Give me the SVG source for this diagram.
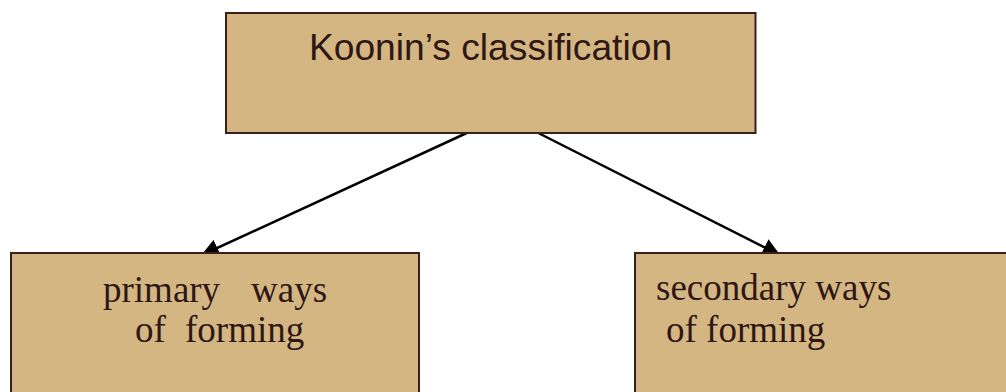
<svg xmlns="http://www.w3.org/2000/svg" width="1006" height="392" viewBox="0 0 1006 392">
  <style>
    .box { fill: #d4b683; stroke: #3b1f1a; stroke-width: 2; }
    .sans { font-family: "Liberation Sans", Arial, sans-serif; fill: #2e1714; }
    .serif { font-family: "Liberation Serif", "Times New Roman", serif; fill: #2e1714; font-size: 37px; }
    .edge { stroke: #000; stroke-width: 2.5; fill: none; marker-end: url(#arrow); }
  </style>
  <defs>
    <marker id="arrow" viewBox="0 0 18 18" refX="18" refY="9" markerWidth="18" markerHeight="18" orient="auto" markerUnits="userSpaceOnUse">
      <path d="M0,0 L18,9 L0,18 Z" fill="#000"/>
    </marker>
  </defs>
  <rect width="1006" height="392" fill="#fff"/>

  <!-- connectors (drawn under the boxes, so arrowheads tuck into the box tops) -->
  <g id="connectors">
    <line class="edge" x1="466.7" y1="133" x2="201" y2="255.5"/>
    <line class="edge" x1="538.3" y1="133" x2="780.5" y2="255.5"/>
  </g>

  <g id="node-root">
    <rect class="box" x="226" y="13" width="529.5" height="120"/>
    <text class="sans" x="490.5" y="59.5" font-size="37.2" text-anchor="middle">Koonin’s classification</text>
  </g>

  <g id="node-primary">
    <rect class="box" x="11" y="253" width="408" height="150"/>
    <text class="serif" y="302"><tspan x="103">primary</tspan><tspan x="251">ways</tspan></text>
    <text class="serif" y="342"><tspan x="135">of</tspan><tspan x="185">forming</tspan></text>
  </g>

  <g id="node-secondary">
    <rect class="box" x="635" y="253" width="380" height="150"/>
    <text class="serif" x="656" y="300">secondary ways</text>
    <text class="serif" x="666" y="342">of forming</text>
  </g>
</svg>
